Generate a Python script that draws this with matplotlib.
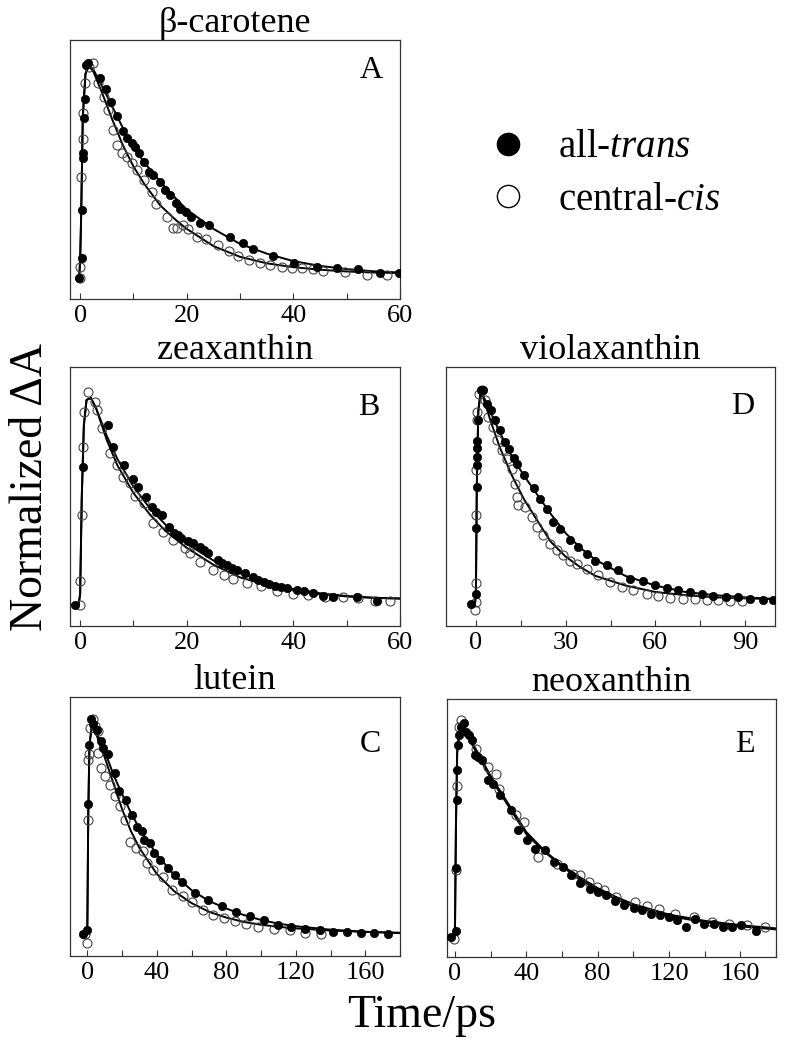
import matplotlib
matplotlib.use('Agg')
import matplotlib.pyplot as plt
from matplotlib.ticker import MultipleLocator
from matplotlib.lines import Line2D

# ---------------- data ----------------
# A: beta-carotene
a_trans_t = [-0.2, 0.3, 0.3, 0.5, 0.6, 0.7, 0.9, 1.1, 1.4, 3.75, 4.9, 5.75, 7.0, 8.0, 8.75, 9.7, 10.3, 11.1,
             11.9, 13.0, 13.75, 15.0, 15.9, 16.9, 18.0, 18.75, 19.9, 20.75, 22.4, 24.25, 28.1, 30.6, 32.4,
             36.25, 40.1, 44.4, 48.25, 52.2, 56.25, 59.9]
a_trans_y = [0.0, 0.093, 0.318, 0.558, 0.581, 0.744, 0.834, 0.99, 1.0, 0.93, 0.879, 0.82, 0.755, 0.687, 0.651,
             0.628, 0.612, 0.584, 0.543, 0.496, 0.48, 0.45, 0.411, 0.388, 0.349, 0.321, 0.31, 0.287, 0.259,
             0.248, 0.194, 0.163, 0.135, 0.104, 0.073, 0.054, 0.05, 0.042, 0.026, 0.023]
a_cis_t = [-0.1, 0.0, 0.1, 0.6, 0.6, 0.9, 1.6, 2.5, 3.4, 4.4, 5.3, 6.25, 6.9, 7.8, 8.75, 9.7, 10.6, 11.9, 13.4,
           14.25, 16.25, 17.4, 18.1, 19.25, 20.3, 22.0, 23.6, 25.9, 28.0, 29.7, 31.75, 33.75, 35.6, 37.8,
           39.7, 41.6, 43.75, 45.6, 49.7, 53.75, 57.5]
a_cis_y = [0.0, 0.054, 0.473, 0.647, 0.767, 0.907, 0.984, 1.003, 0.907, 0.845, 0.783, 0.69, 0.62, 0.584,
           0.566, 0.535, 0.504, 0.457, 0.403, 0.346, 0.287, 0.233, 0.233, 0.248, 0.228, 0.191, 0.181, 0.155,
           0.129, 0.104, 0.085, 0.07, 0.062, 0.054, 0.047, 0.047, 0.042, 0.036, 0.031, 0.016, 0.016]
a_fit_trans_t = [-0.3, -0.2, 0.0, 0.2, 0.5, 1.0, 1.6, 2.5, 4, 6, 8, 10, 12, 15, 18, 20, 25, 30, 35, 40, 45,
                 50, 55, 60]
a_fit_trans_y = [0.0, 0.0, 0.08, 0.3, 0.75, 0.95, 0.99, 0.97, 0.90, 0.80, 0.70, 0.61, 0.54, 0.45, 0.37,
                 0.32, 0.23, 0.16, 0.115, 0.08, 0.058, 0.043, 0.033, 0.027]
a_fit_cis_t = [-0.3, -0.2, 0.0, 0.2, 0.5, 1.0, 1.6, 2.5, 4, 6, 8, 10, 12, 15, 18, 20, 25, 30, 35, 40, 45,
               50, 55, 60]
a_fit_cis_y = [0.0, 0.0, 0.08, 0.3, 0.75, 0.95, 0.99, 0.96, 0.87, 0.74, 0.62, 0.52, 0.44, 0.34, 0.27, 0.23,
               0.15, 0.10, 0.07, 0.052, 0.04, 0.032, 0.027, 0.025]

# B: zeaxanthin
b_trans_t = [-1.0, 0.6, 5.3, 6.25, 8.25, 9.9, 10.9, 12.4, 13.4, 14.3, 15.3, 16.6, 17.6, 18.3, 19.0, 20.3,
             21.25, 22.5, 23.2, 24.0, 25.9, 26.7, 27.5, 28.4, 29.4, 30.9, 32.5, 33.4, 34.4, 35.5, 36.6, 37.7,
             38.75, 40.6, 41.9, 43.75, 45.6, 47.5, 51.9, 55.6]
b_trans_y = [0.0, 0.654, 0.85, 0.748, 0.661, 0.598, 0.559, 0.512, 0.465, 0.44, 0.425, 0.37, 0.342, 0.33,
             0.315, 0.30, 0.294, 0.276, 0.26, 0.244, 0.213, 0.20, 0.189, 0.175, 0.165, 0.15, 0.131, 0.12,
             0.11, 0.10, 0.087, 0.083, 0.079, 0.071, 0.068, 0.055, 0.043, 0.039, 0.039, 0.02]
b_cis_t = [-0.1, 0.0, 0.3, 0.6, 0.75, 1.4, 2.8, 3.1, 4.1, 5.6, 6.9, 8.1, 9.4, 10.3, 11.9, 13.75, 15.6, 17.5,
           19.7, 20.6, 22.5, 25.0, 26.9, 28.75, 31.25, 34.0, 36.9, 40.0, 42.8, 45.9, 49.4, 52.2, 55.3, 58.1]
b_cis_y = [0.0, 0.115, 0.425, 0.748, 0.913, 1.008, 0.961, 0.921, 0.835, 0.717, 0.661, 0.606, 0.575, 0.515,
           0.48, 0.386, 0.346, 0.307, 0.268, 0.244, 0.205, 0.165, 0.142, 0.121, 0.102, 0.087, 0.068, 0.052,
           0.047, 0.039, 0.036, 0.031, 0.02, 0.016]
b_fit_trans_t = [-1.9, -0.3, 0.0, 0.3, 0.7, 1.2, 2, 3, 5, 7, 10, 13, 16, 20, 25, 30, 35, 40, 45, 50, 55, 60]
b_fit_trans_y = [0.0, 0.0, 0.05, 0.5, 0.85, 0.97, 0.98, 0.93, 0.80, 0.69, 0.56, 0.46, 0.38, 0.29, 0.21,
                 0.15, 0.105, 0.075, 0.055, 0.042, 0.034, 0.03]
b_fit_cis_t = [-1.9, -0.3, 0.0, 0.3, 0.7, 1.2, 2, 3, 5, 7, 10, 13, 16, 20, 25, 30, 35, 40, 45, 50, 55, 60]
b_fit_cis_y = [0.0, 0.0, 0.05, 0.5, 0.85, 0.97, 0.98, 0.93, 0.78, 0.66, 0.53, 0.43, 0.35, 0.27, 0.19, 0.13,
               0.095, 0.068, 0.05, 0.04, 0.033, 0.03]

# D: violaxanthin
d_trans_t = [-1.8, 0.0, 0.0, 0.2, 0.2, 0.2, 0.4, 0.4, 0.8, 1.6, 2.45, 3.8, 5.2, 6.4, 8.0, 9.7, 11.1, 12.7,
             13.8, 16.0, 19.4, 21.4, 23.9, 25.9, 28.1, 31.4, 34.2, 37.0, 39.8, 43.7, 47.6, 51.5, 56.0, 59.9,
             63.8, 67.7, 71.6, 75.5, 79.4, 83.6, 87.7, 91.6, 96.1, 99.4]
d_trans_y = [0.0, 0.047, 0.355, 0.545, 0.646, 0.685, 0.729, 0.76, 0.857, 0.997, 1.0, 0.935, 0.907, 0.857,
             0.81, 0.755, 0.724, 0.682, 0.651, 0.6, 0.54, 0.49, 0.444, 0.382, 0.35, 0.299, 0.265, 0.234,
             0.202, 0.179, 0.156, 0.117, 0.106, 0.086, 0.075, 0.065, 0.055, 0.044, 0.036, 0.031, 0.031,
             0.023, 0.019, 0.019]
d_cis_t = [-0.3, 0.0, 0.0, 0.0, 0.0, 0.2, 0.4, 1.1, 1.9, 3.0, 4.1, 5.8, 6.9, 8.6, 10.3, 11.9, 13.0, 13.6,
           14.2, 16.4, 18.6, 20.3, 22.5, 24.7, 27.0, 29.2, 31.4, 33.7, 37.0, 40.9, 44.8, 48.7, 52.6, 57.1,
           61.0, 64.9, 69.3, 73.2, 77.1, 81.0, 85.0, 88.9]
d_cis_y = [-0.03, 0.008, 0.097, 0.413, 0.626, 0.857, 0.896, 0.98, 1.0, 0.95, 0.872, 0.826, 0.763, 0.717,
           0.678, 0.631, 0.561, 0.498, 0.46, 0.452, 0.405, 0.358, 0.319, 0.28, 0.249, 0.226, 0.202, 0.187,
           0.164, 0.132, 0.101, 0.078, 0.062, 0.047, 0.034, 0.028, 0.023, 0.023, 0.019, 0.016, 0.012, 0.012]
d_fit_trans_t = [-1.8, -0.3, 0.0, 0.3, 0.8, 1.5, 2.5, 5, 8, 12, 16, 20, 25, 30, 35, 40, 50, 60, 70, 80, 90, 100]
d_fit_trans_y = [0.0, 0.0, 0.05, 0.55, 0.9, 0.98, 0.97, 0.89, 0.80, 0.69, 0.60, 0.52, 0.42, 0.33, 0.26,
                 0.205, 0.13, 0.085, 0.055, 0.04, 0.03, 0.022]
d_fit_cis_t = [-1.8, -0.3, 0.0, 0.3, 0.8, 1.5, 2.5, 5, 8, 12, 16, 20, 25, 30, 35, 40, 50, 60, 70, 80, 90, 100]
d_fit_cis_y = [0.0, 0.0, 0.05, 0.55, 0.9, 0.98, 0.96, 0.85, 0.73, 0.60, 0.49, 0.40, 0.29, 0.22, 0.17,
               0.13, 0.085, 0.055, 0.04, 0.03, 0.025, 0.022]

# C: lutein
c_trans_t = [-2.3, 0.0, 0.6, 1.1, 1.9, 3.4, 5.4, 7.7, 9.2, 12.1, 15.9, 18.4, 22.2, 25.5, 28.4, 31.2, 32.6,
             36.0, 38.3, 41.8, 46.6, 50.4, 54.2, 61.9, 69.5, 77.8, 85.8, 93.5, 101.5, 109.8, 117.4, 125.5,
             133.7, 141.4, 149.4, 157.7, 165.3, 173.0]
c_trans_y = [0.0, 0.022, 0.606, 0.876, 0.997, 0.974, 0.947, 0.896, 0.865, 0.834, 0.748, 0.663, 0.621, 0.554,
             0.5, 0.481, 0.438, 0.422, 0.376, 0.345, 0.306, 0.275, 0.244, 0.193, 0.161, 0.13, 0.104, 0.084,
             0.068, 0.042, 0.034, 0.026, 0.019, 0.011, 0.011, 0.006, 0.006, 0.0]
c_cis_t = [-1.3, 0.0, 0.6, 0.6, 1.1, 1.5, 3.1, 4.4, 6.3, 6.3, 7.7, 10.2, 13.0, 15.9, 18.8, 21.6, 24.5, 28.0,
           31.8, 34.1, 37.9, 43.3, 49.0, 54.8, 60.5, 66.7, 72.4, 78.5, 84.9, 91.2, 98.3, 107.3, 116.5, 125.5,
           134.7]
c_cis_y = [0.0, -0.04, 0.528, 0.81, 0.834, 0.958, 0.997, 0.966, 0.943, 0.839, 0.772, 0.733, 0.694, 0.64,
           0.593, 0.53, 0.43, 0.399, 0.388, 0.329, 0.298, 0.267, 0.205, 0.177, 0.151, 0.115, 0.089, 0.078,
           0.062, 0.05, 0.034, 0.026, 0.019, 0.006, 0.0]
c_fit_trans_t = [-2.3, -0.3, 0.0, 0.5, 1.2, 2.5, 5, 10, 15, 20, 25, 30, 40, 50, 60, 70, 80, 90, 100, 110, 120,
                 140, 160, 180]
c_fit_trans_y = [0.0, 0.0, 0.05, 0.55, 0.88, 0.96, 0.94, 0.85, 0.74, 0.65, 0.565, 0.49, 0.37, 0.275, 0.205,
                 0.155, 0.12, 0.09, 0.067, 0.05, 0.038, 0.022, 0.012, 0.006]
c_fit_cis_t = [-2.3, -0.3, 0.0, 0.5, 1.2, 2.5, 5, 10, 15, 20, 25, 30, 40, 50, 60, 70, 80, 90, 100, 110, 120,
               140, 160, 180]
c_fit_cis_y = [0.0, 0.0, 0.05, 0.55, 0.88, 0.96, 0.93, 0.82, 0.70, 0.58, 0.48, 0.40, 0.28, 0.20, 0.145,
               0.105, 0.078, 0.058, 0.045, 0.035, 0.028, 0.018, 0.012, 0.008]

# E: neoxanthin
e_trans_t = [-2.4, 0.4, 0.4, 0.9, 1.3, 1.8, 2.2, 3.2, 5.0, 6.0, 7.8, 9.7, 11.0, 12.9, 15.3, 18.5, 21.5,
             25.2, 31.2, 35.3, 40.1, 45.1, 50.2, 55.4, 60.6, 65.1, 70.3, 75.6, 80.0, 84.9, 89.9, 95.0, 100.2,
             104.9, 109.9, 115.1, 119.8, 124.4, 129.7, 134.7, 139.7, 145.0, 150.2, 155.2, 160.3, 168.8]
e_trans_y = [-0.005, 0.02, 0.315, 0.631, 0.77, 0.884, 0.93, 0.969, 0.988, 0.946, 0.93, 0.907, 0.837, 0.829,
             0.817, 0.724, 0.702, 0.651, 0.581, 0.488, 0.442, 0.403, 0.398, 0.341, 0.318, 0.279, 0.243,
             0.217, 0.202, 0.186, 0.16, 0.14, 0.129, 0.116, 0.098, 0.093, 0.085, 0.07, 0.039, 0.078, 0.054,
             0.051, 0.039, 0.039, 0.047, 0.023]
e_cis_t = [-0.6, 0.4, 0.9, 2.2, 3.5, 11.6, 18.5, 22.8, 24.6, 34.0, 38.6, 46.5, 57.3, 66.2, 70.3, 75.0, 79.7,
           83.8, 90.5, 101.1, 107.6, 114.2, 123.5, 133.8, 144.0, 153.4, 163.6, 173.9]
e_cis_y = [-0.016, 0.305, 0.693, 0.969, 1.0, 0.864, 0.783, 0.752, 0.682, 0.558, 0.527, 0.364, 0.33, 0.287,
           0.279, 0.248, 0.225, 0.212, 0.178, 0.155, 0.135, 0.124, 0.098, 0.088, 0.062, 0.054, 0.047, 0.039]
e_fit_trans_t = [-2.4, -0.3, 0.0, 0.5, 1.2, 2.5, 4, 6, 10, 20, 30, 40, 50, 60, 70, 80, 90, 100, 120, 140,
                 160, 180]
e_fit_trans_y = [0.0, 0.0, 0.05, 0.5, 0.85, 0.95, 0.97, 0.94, 0.88, 0.73, 0.60, 0.47, 0.39, 0.32, 0.26, 0.21,
                 0.17, 0.135, 0.09, 0.062, 0.042, 0.028]
e_fit_cis_t = [-2.4, -0.3, 0.0, 0.5, 1.2, 2.5, 4, 6, 10, 20, 30, 40, 50, 60, 70, 80, 90, 100, 120, 140,
               160, 180]
e_fit_cis_y = [0.0, 0.0, 0.05, 0.5, 0.85, 0.95, 0.97, 0.94, 0.89, 0.74, 0.61, 0.48, 0.395, 0.325, 0.27,
               0.22, 0.18, 0.145, 0.097, 0.068, 0.048, 0.033]

titles = ['\u03b2-carotene', 'zeaxanthin', 'violaxanthin', 'lutein', 'neoxanthin']
letters = ['A', 'B', 'D', 'C', 'E']
legend_labels = ['all-$\\mathit{trans}$', 'central-$\\mathit{cis}$']

# ---------------- style ----------------
plt.rcParams['font.family'] = ['Liberation Serif', 'DejaVu Serif']
plt.rcParams['mathtext.fontset'] = 'custom'
plt.rcParams['mathtext.rm'] = 'Liberation Serif'
plt.rcParams['mathtext.it'] = 'Liberation Serif:italic'

W, H = 788, 1050
fig = plt.figure(figsize=(W / 100, H / 100), dpi=100)

# panel boxes in pixels: left, top, right, bottom
panels = [
    dict(box=(70, 40, 400, 299), xlim=(-1.9, 60), major=20, minor=10, ylim=(-0.096, 1.108), lpos=(0.912, 0.884),
         trans=(a_trans_t, a_trans_y), cis=(a_cis_t, a_cis_y),
         ftrans=(a_fit_trans_t, a_fit_trans_y), fcis=(a_fit_cis_t, a_fit_cis_y)),
    dict(box=(70, 367, 400, 626), xlim=(-1.9, 60), major=20, minor=10, ylim=(-0.1, 1.126), lpos=(0.906, 0.842),
         trans=(b_trans_t, b_trans_y), cis=(b_cis_t, b_cis_y),
         ftrans=(b_fit_trans_t, b_fit_trans_y), fcis=(b_fit_cis_t, b_fit_cis_y)),
    dict(box=(446, 367, 775, 626), xlim=(-10, 100), major=30, minor=15, ylim=(-0.104, 1.106), lpos=(0.903, 0.846),
         trans=(d_trans_t, d_trans_y), cis=(d_cis_t, d_cis_y),
         ftrans=(d_fit_trans_t, d_fit_trans_y), fcis=(d_fit_cis_t, d_fit_cis_y)),
    dict(box=(70, 697, 400, 956), xlim=(-10, 180), major=40, minor=20, ylim=(-0.1, 1.1), lpos=(0.909, 0.815),
         trans=(c_trans_t, c_trans_y), cis=(c_cis_t, c_cis_y),
         ftrans=(c_fit_trans_t, c_fit_trans_y), fcis=(c_fit_cis_t, c_fit_cis_y)),
    dict(box=(447, 699, 776, 957), xlim=(-4.5, 180), major=40, minor=20, ylim=(-0.1, 1.098), lpos=(0.906, 0.822),
         trans=(e_trans_t, e_trans_y), cis=(e_cis_t, e_cis_y),
         ftrans=(e_fit_trans_t, e_fit_trans_y), fcis=(e_fit_cis_t, e_fit_cis_y)),
]

for p, title, letter in zip(panels, titles, letters):
    l, t, r, b = p['box']
    ax = fig.add_axes([l / W, 1 - b / H, (r - l) / W, (b - t) / H])
    ax.plot(*p['ftrans'], color='black', lw=1.4, zorder=2)
    ax.plot(*p['fcis'], color='black', lw=1.4, zorder=2)
    ax.plot(*p['cis'], ls='none', marker='o', ms=6.5, mfc='none', mec='#444444', mew=0.8, zorder=3)
    ax.plot(*p['trans'], ls='none', marker='o', ms=6, mfc='black', mec='black', mew=0.5, zorder=4)
    ax.set_xlim(*p['xlim'])
    ax.set_ylim(*p['ylim'])
    ax.set_yticks([])
    ax.xaxis.set_major_locator(MultipleLocator(p['major']))
    ax.xaxis.set_minor_locator(MultipleLocator(p['minor']))
    ax.tick_params(axis='x', which='both', direction='in', length=4, width=0.8, color='#333333')
    ax.tick_params(axis='x', which='major', labelsize=19, pad=4)
    for s in ax.spines.values():
        s.set_linewidth(0.9)
        s.set_color('#333333')
    ax.set_title(title, fontsize=26, pad=3)
    ax.text(p['lpos'][0], p['lpos'][1], letter, transform=ax.transAxes, fontsize=23,
            ha='center', va='center')

# legend in the empty top-right area
handles = [Line2D([], [], ls='none', marker='o', ms=16, mfc='black', mec='black'),
           Line2D([], [], ls='none', marker='o', ms=16, mfc='white', mec='black', mew=1.0)]
fig.legend(handles, legend_labels, loc='center left', bbox_to_anchor=(472 / W, 1 - 174 / H),
           frameon=False, fontsize=28, borderpad=0, borderaxespad=0, handlelength=1.85,
           handletextpad=0.35, labelspacing=0.4)

fig.text(31 / W, 1 - 487 / H, 'Normalized \u0394A', rotation=90, fontsize=33, ha='center', va='center')
fig.text(422 / W, 1 - 1027 / H, 'Time/ps', fontsize=33, ha='center', va='baseline')

fig.savefig('out.png', dpi=100)
